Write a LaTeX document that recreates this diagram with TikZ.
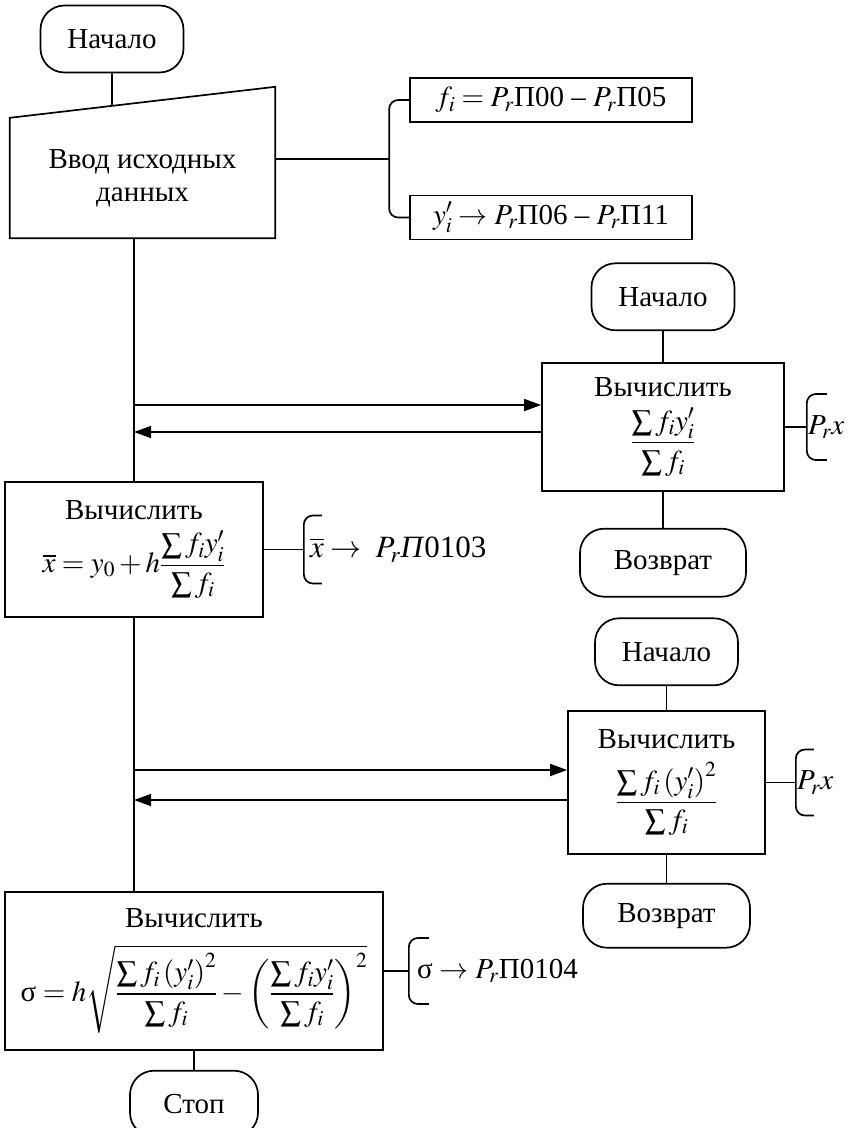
\documentclass[tikz,border=0pt]{standalone}
\usepackage{amsmath}
\usepackage{mathptmx}
\usepackage{fontspec}
\setmainfont{Liberation Serif}
\usetikzlibrary{arrows.meta, positioning, calc}

\begin{document}
\begin{tikzpicture}[
    x=1pt, y=-1pt,
    every node/.style={font=\fontsize{29}{33}\selectfont, inner sep=2pt},
    termbox/.style={draw, rectangle, rounded corners=24pt, minimum width=143pt, minimum height=67pt, line width=1.7pt},
    procbox/.style={draw, rectangle, align=center, line width=1.7pt},
    databox/.style={draw, rectangle, minimum width=282pt, minimum height=44pt, line width=1.7pt},
    link/.style={line width=1.7pt},
    brc/.style={line width=1.7pt, rounded corners=9pt},
    arrow/.style={-{Triangle[length=17pt,width=12pt]}, line width=1.7pt}
]
\useasboundingbox (0,0) rectangle (858,1128);

% main branch
\node (start) [termbox] at (112,39) {Начало};
\node (input) [align=center, minimum width=265pt, minimum height=120pt] at (142.5,178) {Ввод исходных\\данных};
\coordinate (inNE) at ($(input.north east)+(0,-31)$);
\draw[link] (input.south west) -- (input.south east) -- (inNE) -- (input.north west) -- cycle;
\draw[link] (start.south) -- ($(input.north west)!0.385!(inNE)$);

\node (fin) [databox] at (551,100) {$f_i = P_r$П00 – $P_r$П05};
\node (yin) [databox] at (551,217.5) {$y'_i \rightarrow P_r$П06 – $P_r$П11};
\draw[brc] (fin.west) -- ++(-20,0) |- (yin.west);
\coordinate (inmid) at ($(fin.west)!0.5!(yin.west)+(-20,0)$);
\draw[link] (inmid -| input.east) -- (inmid);

\node (xbar) [procbox, minimum width=258pt, minimum height=135pt] at (134,549.5) {Вычислить\\[10pt]$\overline{x} = y_0 + h\dfrac{\sum f_iy'_i}{\sum f_i}$};
\node (sigma) [procbox, minimum width=378pt, minimum height=158pt] at (194,971) {Вычислить\\[16pt]$\text{σ} = h\sqrt{\dfrac{\sum f_i\left(y'_i\right)^2}{\sum f_i} - \left(\dfrac{\sum f_iy'_i}{\sum f_i}\right)^2}$};
\node (stop) [termbox, minimum width=128pt, minimum height=66pt, below=19pt of sigma] {Стоп};

\draw[link] (input.south -| xbar.north) -- (xbar.north);
\draw[link] (xbar.south) -- (xbar.south |- sigma.north);
\draw[link] (sigma.south) -- (stop.north);

% first subroutine
\node (calc1) [procbox, minimum width=242pt, minimum height=128pt] at (663,427) {Вычислить\\[10pt]$\dfrac{\sum f_iy'_i}{\sum f_i}$};
\node (beg1) [termbox, above=31pt of calc1] {Начало};
\node (ret1) [termbox, minimum width=166pt, minimum height=68pt, below=36pt of calc1] {Возврат};
\draw[link] (beg1) -- (calc1);
\draw[link] (calc1) -- (ret1);
\coordinate (in1) at ([yshift=22pt]calc1.west);
\coordinate (out1) at ([yshift=-5pt]calc1.west);
\draw[arrow] (in1 -| xbar.north) -- (in1);
\draw[arrow] (out1) -- (out1 -| xbar.north);

% second subroutine
\node (calc2) [procbox, minimum width=197pt, minimum height=143pt] at (666.5,782.5) {Вычислить\\[12pt]$\dfrac{\sum f_i\left(y'_i\right)^2}{\sum f_i}$};
\node (beg2) [termbox, above=24pt of calc2] {Начало};
\node (ret2) [termbox, minimum width=167pt, minimum height=64pt, below=28pt of calc2] {Возврат};
\draw[link] (beg2) -- (calc2);
\draw[link] (calc2) -- (ret2);
\coordinate (in2) at ([yshift=12.5pt]calc2.west);
\coordinate (out2) at ([yshift=-17.5pt]calc2.west);
\draw[arrow] (in2 -| xbar.south) -- (in2);
\draw[arrow] (out2) -- (out2 -| xbar.south);

% result braces
\draw[link] (calc1.east) -- ++(22,0) coordinate (b1);
\draw[brc] ($(b1)+(20,-33)$) -- ($(b1)+(0,-33)$) -- ($(b1)+(0,33)$) -- ($(b1)+(20,33)$);
\node (px1) [anchor=west, inner sep=1pt] at (b1) {$P_rx$};

\draw[link] (calc2.east) -- ++(30,0) coordinate (b2);
\draw[brc] ($(b2)+(18,-33)$) -- ($(b2)+(0,-33)$) -- ($(b2)+(0,33)$) -- ($(b2)+(18,33)$);
\node (px2) [anchor=west, inner sep=1pt] at (b2) {$P_rx$};

\draw[link] (xbar.east) -- ++(40,0) coordinate (b3);
\draw[brc] ($(b3)+(18,-34)$) -- ($(b3)+(0,-34)$) -- ($(b3)+(0,34)$) -- ($(b3)+(18,34)$);
\node (xout) [anchor=west, inner sep=6pt, font=\fontsize{31}{36}\selectfont] at (b3) {$\overline{x} \rightarrow\; P_r$\textit{П}0103};

\draw[link] (sigma.east) -- ++(25,0) coordinate (b4);
\draw[brc] ($(b4)+(20,-33)$) -- ($(b4)+(0,-33)$) -- ($(b4)+(0,33)$) -- ($(b4)+(20,33)$);
\node (sout) [anchor=west, inner sep=8pt] at (b4) {σ $\rightarrow P_r$П0104};
\end{tikzpicture}
\end{document}
